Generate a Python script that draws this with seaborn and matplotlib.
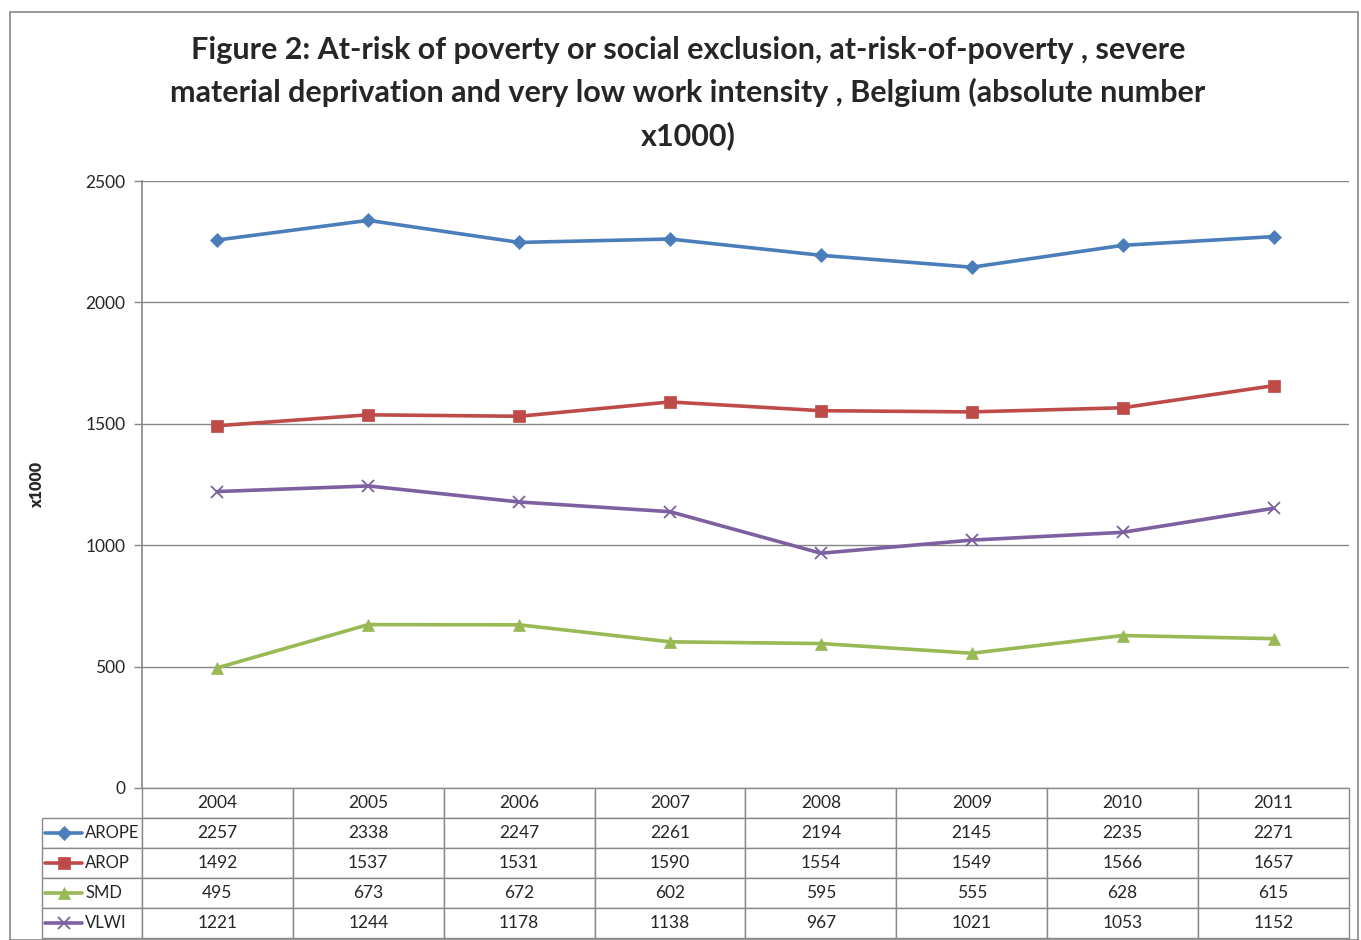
import matplotlib
matplotlib.use("Agg")
import matplotlib.pyplot as plt
import seaborn as sns
import numpy as np
import pandas as pd
from matplotlib.lines import Line2D
from matplotlib.patches import Rectangle

years = ["2004", "2005", "2006", "2007", "2008", "2009", "2010", "2011"]
series_names = ["AROPE", "AROP", "SMD", "VLWI"]
arope = [2257, 2338, 2247, 2261, 2194, 2145, 2235, 2271]
arop = [1492, 1537, 1531, 1590, 1554, 1549, 1566, 1657]
smd = [495, 673, 672, 602, 595, 555, 628, 615]
vlwi = [1221, 1244, 1178, 1138, 967, 1021, 1053, 1152]
values = [arope, arop, smd, vlwi]

colors = ["#4A7EBB", "#BE4B48", "#98B954", "#7D60A0"]
markers = ["D", "s", "^", "x"]
msizes = [7, 8.5, 8.5, 8]

sns.set_theme(style="white")
plt.rcParams['font.family'] = ['Lato', 'DejaVu Sans']

fig = plt.figure(figsize=(13.61, 9.40), dpi=100)
AX_W, AX_H = 1207, 607
ax = fig.add_axes([142/1361, 1 - 788/940, AX_W/1361, AX_H/940])

idx = np.arange(len(years))
for name, vals, c, m, ms in zip(series_names, values, colors, markers, msizes):
    df = pd.DataFrame({"x": idx, "y": vals})
    sns.lineplot(data=df, x="x", y="y", ax=ax, color=c, linewidth=2.6,
                 marker=m, markersize=ms, markeredgecolor=c, markerfacecolor=c,
                 markeredgewidth=1.3 if m == "x" else 0.5, legend=False)

ax.set_xlim(-0.5, len(years) - 0.5)
ax.set_ylim(0, 2500)
ax.set_yticks(np.arange(0, 2501, 500))
ax.yaxis.grid(True, color="#868686", linewidth=1.0)
ax.set_axisbelow(True)
ax.set_xticks([])
ax.set_xlabel("")
ax.set_ylabel("x1000", fontsize=11.5, fontweight="heavy")
ax.yaxis.set_label_coords(-97/AX_W, 0.5)
ax.tick_params(axis="y", which="both", left=True, length=6, width=1.0,
               color="#868686", labelsize=12.5, pad=6)
for s in ["top", "right", "bottom"]:
    ax.spines[s].set_visible(False)
ax.spines["left"].set_color("#868686")
ax.spines["left"].set_linewidth(1.2)

# data table: first column holds series labels (drawn separately with keys)
cell_text = [[""] + [str(v) for v in vals] for vals in values]
tbl = ax.table(cellText=cell_text, colLabels=[""] + years,
               cellLoc="center", bbox=[-100/AX_W, -150/AX_H, 1 + 100/AX_W, 150/AX_H])
tbl.auto_set_font_size(False)
tbl.set_fontsize(12.5)
for (r, c), cell in tbl.get_celld().items():
    cell.set_edgecolor("#898989")
    cell.set_linewidth(1.0)
    cell.set_width(100 / 150.875 if c == 0 else 1.0)
    if r == 0 and c == 0:
        cell.visible_edges = ""

nrows = len(series_names) + 1
row_h = (150/AX_H) / nrows
for i, (name, c, m, ms) in enumerate(zip(series_names, colors, markers, msizes)):
    yc = -row_h * (i + 1.5)
    x0 = -97/AX_W
    x1 = -60/AX_W
    ax.add_line(Line2D([x0, x1], [yc, yc], transform=ax.transAxes, color=c,
                       linewidth=2.6, clip_on=False))
    ax.add_line(Line2D([(x0 + x1) / 2], [yc], transform=ax.transAxes, color=c,
                       marker=m, markersize=ms, markeredgecolor=c,
                       markeredgewidth=1.3 if m == "x" else 0.5, linestyle="none",
                       clip_on=False))
    ax.text(-57/AX_W, yc, name, transform=ax.transAxes, ha="left", va="center",
            fontsize=12, clip_on=False)

fig.text(688/1361, 1 - 93/940,
         "Figure 2: At-risk of poverty or social exclusion, at-risk-of-poverty , severe\n"
         "material deprivation and very low work intensity , Belgium (absolute number\n"
         "x1000)", ha="center", va="center", fontsize=22, fontweight="bold",
         linespacing=1.57)

fig.patches.append(Rectangle((10/1361, 0), 1348/1361, 1 - 12/940,
                             transform=fig.transFigure, fill=False,
                             edgecolor="#868686", linewidth=1.2))

fig.savefig("out.png", dpi=100)
